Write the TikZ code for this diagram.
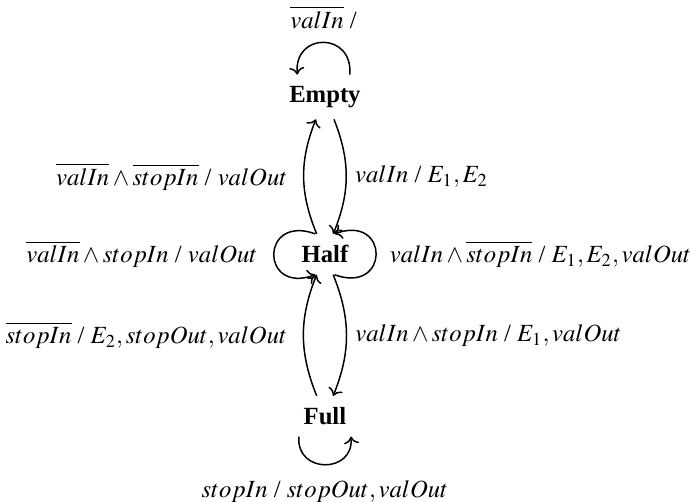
\documentclass[tikz,border=0pt]{standalone}
\usepackage{mathptmx}
\usepackage{fontspec}
\setmainfont{Liberation Serif}
\usetikzlibrary{positioning, arrows.meta}

\begin{document}
\begin{tikzpicture}[
  state/.style={font=\bfseries, inner ysep=4.5pt},
  trans/.style={->, semithick},
]
  \useasboundingbox (0,0) rectangle (9.85,7.14);

  \node[state] (empty) at (4.625,5.76) {Empty};
  \node[state] (half)  at (4.625,3.52) {Half};
  \node[state] (full)  at (4.625,1.215) {Full};

  % self loops
  \draw[trans] (empty.42) to[out=85, in=95, looseness=2.1]
    node[above=2pt] {$\overline{valIn}$ /} (empty.141);
  \draw[trans] (half.115) to[out=160, in=200, looseness=3.7]
    node[left=3pt] {$\overline{valIn}\wedge stopIn$ / $valOut$} (half.245);
  \draw[trans] (half.295) to[out=-20, in=20, looseness=3.7]
    node[right=2pt] {$valIn\wedge\overline{stopIn}$ / $E_1,E_2,valOut$} (half.65);
  \draw[trans] (full.218) to[out=265, in=275, looseness=1.85]
    node[below=3pt] {$stopIn$ / $stopOut,valOut$} (full.322);

  % transitions between states
  \draw[trans] (half) to[bend left=22]
    node[left=3pt] {$\overline{valIn}\wedge\overline{stopIn}$ / $valOut$} (empty);
  \draw[trans] (empty) to[bend left=22]
    node[right] {$valIn$ / $E_1,E_2$} (half);
  \draw[trans] (full) to[bend left=22]
    node[left=3pt] {$\overline{stopIn}$ / $E_2,stopOut,valOut$} (half);
  \draw[trans] (half) to[bend left=22]
    node[right] {$valIn\wedge stopIn$ / $E_1,valOut$} (full);
\end{tikzpicture}
\end{document}
